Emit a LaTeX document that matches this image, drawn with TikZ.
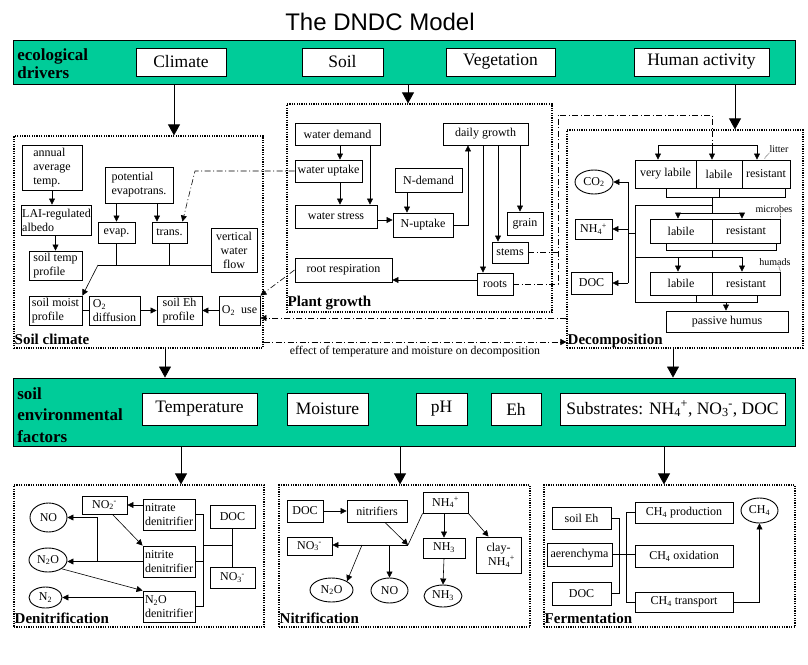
\documentclass[tikz,border=0pt]{standalone}
\usepackage{fontspec}
\setmainfont{Liberation Serif}
\newfontfamily\headfont{Liberation Sans}
\usepackage{tikz}
\usetikzlibrary{shapes.geometric, arrows.meta}
\definecolor{bandgreen}{RGB}{0,204,153}
\newcommand{\ionsub}[2]{\textsubscript{#1}\kern-0.3pt\textsuperscript{#2}}

\begin{document}
\begin{tikzpicture}[x=1pt, y=-1pt, line width=0.6pt,
    box/.style={draw, rectangle, line width=0.9pt, inner sep=1pt, align=center, font=\fontsize{12}{14}\selectfont},
    lbox/.style={box, align=left},
    ellnode/.style={draw, ellipse, line width=0.9pt, inner sep=0pt, font=\fontsize{12}{14}\selectfont},
    drvbox/.style={draw, rectangle, fill=white, line width=0.9pt, inner sep=1pt, font=\fontsize{17.5}{19}\selectfont},
    band/.style={draw, rectangle, fill=bandgreen, line width=0.9pt},
    bandlbl/.style={inner sep=0pt, align=left, font=\bfseries\fontsize{17}{18}\selectfont},
    area/.style={draw, dash pattern=on 1.2pt off 1.2pt, line width=1.2pt},
    arealbl/.style={inner sep=1pt, font=\bfseries\fontsize{15}{16}\selectfont},
    tinylbl/.style={inner sep=0pt, font=\fontsize{10}{11}\selectfont},
    leader/.style={dash pattern=on 0.8pt off 0.8pt, line width=0.5pt},
    arr/.style={-{Triangle[length=6pt,width=6pt]}},
    bigarr/.style={-{Triangle[length=11pt,width=12pt]}, line width=0.7pt},
    ddash/.style={dash pattern=on 6pt off 2.5pt on 1pt off 2.5pt}]
        \useasboundingbox (0,0) rectangle (808,664);

        % Title and ecological drivers
        \node[font=\headfont\fontsize{24}{26}\selectfont] (title) at (380,22) {The DNDC Model};
        \node[band, minimum width=782, minimum height=44] (drivers) at (404,62) {};
        \node[bandlbl, anchor=west] (drvlbl) at (17,64) {ecological\\drivers};
        \node[drvbox, minimum width=90, minimum height=28] (climate) at (181,62) {Climate};
        \node[drvbox, minimum width=81, minimum height=28] (soil) at (342.5,62) {Soil};
        \node[drvbox, minimum width=109, minimum height=28] (veget) at (500.5,62) {Vegetation};
        \node[drvbox, minimum width=135, minimum height=28] (human) at (701.5,62) {Human activity};

        % Process areas
        \node[area, minimum width=249, minimum height=212] (soilclim) at (138.5,242) {};
        \node[area, minimum width=265, minimum height=208] (plantgr) at (419.5,208) {};
        \node[area, minimum width=236, minimum height=218] (decomp) at (685,239) {};
        \node[arealbl, anchor=base west] (soilclimlbl) at ([yshift=4pt]soilclim.south west) {Soil climate};
        \node[arealbl, anchor=base west] (plantgrlbl) at ([yshift=6pt]plantgr.south west) {Plant growth};
        \node[arealbl, anchor=base west] (decomplbl) at ([yshift=4pt]decomp.south west) {Decomposition};

        % Soil climate
        \node[lbox, minimum width=60, minimum height=45] (annual) at (52,167.5) {annual\\average\\temp.};
        \node[lbox, minimum width=69, minimum height=30] (lai) at (56.5,220) {LAI-regulated\\albedo};
        \node[lbox, minimum width=53, minimum height=29] (soiltemp) at (55.5,265.5) {soil temp\\profile};
        \node[lbox, minimum width=68, minimum height=36] (potevap) at (139,185) {potential\\evapotrans.};
        \node[box, minimum width=37, minimum height=21] (evap) at (116.5,232.5) {evap.};
        \node[box, minimum width=35, minimum height=21] (trans) at (169.5,232.5) {trans.};
        \node[box, minimum width=46, minimum height=44] (vwflow) at (234,250) {vertical\\water\\flow};
        \node[lbox, minimum width=53, minimum height=29] (soilmoist) at (55.5,310.5) {soil moist\\profile};
        \node[lbox, minimum width=51, minimum height=29] (o2diff) at (114.5,310.5) {O\textsubscript{2}\\diffusion};
        \node[lbox, minimum width=45, minimum height=29] (soileh) at (179.5,310.5) {soil Eh\\profile};
        \node[box, minimum width=41, minimum height=29] (o2use) at (239.5,310.5) {O\textsubscript{2}\ \ use};
        \coordinate (wjoin) at (98,265);

        \draw[arr] (annual.south) -- (annual.south |- lai.north);
        \draw[arr] (lai.south -| soiltemp.north) -- (soiltemp.north);
        \draw[arr] (potevap.south -| evap.north) -- (evap.north);
        \draw[arr] (potevap.south -| 157,0) -- (trans.north -| 157,0);
        \draw (evap.south) -- (evap.south |- wjoin);
        \draw (trans.south) -- (trans.south |- wjoin);
        \draw (wjoin) -- (wjoin -| vwflow.west);
        \draw[arr] (wjoin) -- (soilmoist.north east);
        \draw (soilmoist.east) -- (o2diff.west);
        \draw[arr] (o2diff.east) -- (soileh.west);
        \draw[arr] (o2use.west) -- (soileh.east);

        % Plant growth
        \node[box, minimum width=85, minimum height=22] (waterdem) at (337.5,134) {water demand};
        \node[box, minimum width=67, minimum height=22] (wateruptake) at (328.5,171) {water uptake};
        \node[box, minimum width=82, minimum height=23] (waterstress) at (336,216.5) {water stress};
        \node[box, minimum width=67, minimum height=24] (ndemand) at (428.5,180) {N-demand};
        \node[box, minimum width=60, minimum height=24] (nuptake) at (423,225) {N-uptake};
        \node[box, minimum width=85, minimum height=22] (dailygr) at (485.5,134) {daily growth};
        \node[box, minimum width=36, minimum height=23] (grain) at (525,223.5) {grain};
        \node[box, minimum width=36, minimum height=21] (stems) at (510,252.5) {stems};
        \node[box, minimum width=36, minimum height=22] (roots) at (495,284) {roots};
        \node[box, minimum width=97, minimum height=24] (rootresp) at (343.5,270) {root respiration};

        \draw[arr] (waterdem.south -| 340,0) -- (wateruptake.north -| 340,0);
        \draw[arr] (waterdem.south -| 370,0) -- (waterstress.north -| 370,0);
        \draw[arr] (wateruptake.south -| 340,0) -- (waterstress.north -| 340,0);
        \draw[arr] (waterstress.east |- 0,220) -- (nuptake.west |- 0,220);
        \draw[arr] (ndemand.south -| 407,0) -- (nuptake.north -| 407,0);
        \draw[arr] (nuptake.east) -| (468,0 |- dailygr.south);
        \draw[arr] (dailygr.south -| 483,0) -- (roots.north -| 483,0);
        \draw[arr] (dailygr.south -| 498,0) -- (stems.north -| 498,0);
        \draw[arr] (dailygr.south -| 520,0) -- (grain.north -| 520,0);
        \draw[arr] (roots.west |- 0,280) -- (rootresp.east |- 0,280);

        % Decomposition
        \node[box, minimum width=61, minimum height=28] (verylabile) at (665.5,174) {very labile};
        \node[box, minimum width=46, minimum height=28] (litlabile) at (719,174) {labile};
        \node[box, minimum width=48, minimum height=28] (litres) at (766,174) {resistant};
        \node[box, minimum width=62, minimum height=24] (mlabile) at (681,231) {labile};
        \node[box, minimum width=68, minimum height=24] (mres) at (746,231) {resistant};
        \node[box, minimum width=62, minimum height=23] (hlabile) at (681,283.5) {labile};
        \node[box, minimum width=68, minimum height=23] (hres) at (746,283.5) {resistant};
        \node[box, minimum width=122, minimum height=21] (passive) at (727,321.5) {passive humus};
        \node[ellnode, minimum width=38, minimum height=24] (co2) at (594,182) {CO\textsubscript{2}};
        \node[box, minimum width=37, minimum height=20] (nh4d) at (593.5,229) {NH\ionsub{4}{+}};
        \node[box, minimum width=41, minimum height=22] (docd) at (591.5,283) {DOC};
        \node[tinylbl] (litterlbl) at (779,149) {litter};
        \node[tinylbl] (microblbl) at (774,209) {microbes};
        \node[tinylbl] (humadlbl) at (775,262) {humads};
        \coordinate (litbr) at (712,145);

        \draw (658,145) -- (757,145);
        \foreach \x in {658,712,757}
            \draw[arr] (\x,145) -- (\x,0 |- verylabile.north);
        \draw (666,0 |- verylabile.south) -- (666,197) -- (785,197) -- (785,0 |- litres.south);
        \draw (719,0 |- litlabile.south) -- (719,197);
        \draw (712,197) -- (712,213);
        \draw (678,213) -- (742,213);
        \foreach \x in {678,742}
            \draw[arr] (\x,213) -- (\x,0 |- mlabile.north);
        \draw (666,0 |- mlabile.south) -- (666,250) -- (776,250) -- (776,0 |- mres.south);
        \draw (712,250) -- (712,257);
        \draw (635,205) -- (712,205);
        \draw (635,205) -- (635,302) -- (757,302) -- (757,0 |- hres.south);
        \draw (696,0 |- hlabile.south) -- (696,302);
        \draw (635,257) -- (742,257);
        \foreach \x in {678,742}
            \draw[arr] (\x,257) -- (\x,0 |- hlabile.north);
        \draw[arr] (726,302) -- (726,0 |- passive.north);
        \draw (635,233) -- (628,233);
        \draw (628,0 |- co2.east) -- (628,0 |- docd.east);
        \draw[arr] (628,0 |- co2.east) -- (co2.east);
        \draw[arr] (628,0 |- nh4d.east) -- (nh4d.east);
        \draw[arr] (628,0 |- docd.east) -- (docd.east);
        \draw[leader] (litterlbl.south west) -- ++(-5,6);
        \draw[leader] ([xshift=-12pt]microblbl.south east) -- (mres.north east);
        \draw[leader] ([xshift=-12pt]humadlbl.south east) -- (hres.north east);

        % Links between areas
        \draw[ddash, arr] (wateruptake.west) -- (195,0 |- wateruptake.west) -- ([xshift=-5pt]trans.north east);
        \draw[ddash, arr] (rootresp.west) -- (o2use.north east);
        \draw[ddash, arr] (decomp.west |- 0,318) -- (o2use.east |- 0,318);
        \draw[ddash] (stems.east) -- (558,0 |- stems.east);
        \draw[ddash] (roots.east) -| (558,115) -| (litbr);
        \draw[ddash, arr] (soilclim.east |- 0,342) -- (decomp.west |- 0,342)
            node[midway, below=1pt, font=\fontsize{11.8}{13}\selectfont] (effectlbl) {effect of temperature and moisture on decomposition};

        % Soil environmental factors
        \node[band, minimum width=782, minimum height=68] (envfac) at (404,412) {};
        \node[bandlbl, font=\bfseries\fontsize{17}{21.5}\selectfont, anchor=west] (envlbl) at (17,415) {soil\\environmental\\factors};
        \node[drvbox, minimum width=115, minimum height=32] (temp) at (199.5,409) {Temperature};
        \node[drvbox, minimum width=81, minimum height=32] (moist) at (327.5,409) {Moisture};
        \node[drvbox, minimum width=51, minimum height=32] (ph) at (441.5,409) {pH};
        \node[drvbox, minimum width=50, minimum height=32] (eh) at (516,409) {Eh};
        \node[drvbox, minimum width=225, minimum height=32] (substr) at (672.5,409) {Substrates: NH\ionsub{4}{+},\ NO\ionsub{3}{-}, DOC};

        \draw[bigarr] (drivers.south -| 174,0) -- (soilclim.north -| 174,0);
        \draw[bigarr] (drivers.south -| 408,0) -- (plantgr.north -| 408,0);
        \draw[bigarr] (drivers.south -| 735,0) -- (decomp.north -| 735,0);
        \draw[bigarr] (soilclim.south -| 165,0) -- (envfac.north -| 165,0);
        \draw[bigarr] (decomp.south -| 673,0) -- (envfac.north -| 673,0);

        % Lower areas
        \node[area, minimum width=250, minimum height=142] (denit) at (139,556) {};
        \node[area, minimum width=251, minimum height=142] (nitrif) at (404.5,556) {};
        \node[area, minimum width=251, minimum height=142] (ferment) at (669.5,556) {};
        \node[arealbl, anchor=base west] (denitlbl) at ([yshift=4pt]denit.south west) {Denitrification};
        \node[arealbl, anchor=base west] (nitriflbl) at ([yshift=4pt]nitrif.south west) {Nitrification};
        \node[arealbl, anchor=base west] (fermentlbl) at ([yshift=4pt]ferment.south west) {Fermentation};
        \draw[bigarr] (envfac.south -| 181,0) -- (denit.north -| 181,0);
        \draw[bigarr] (envfac.south -| 400,0) -- (nitrif.north -| 400,0);
        \draw[bigarr] (envfac.south -| 664,0) -- (ferment.north -| 664,0);

        % Denitrification
        \node[ellnode, minimum width=37, minimum height=29] (noell) at (48.5,517.5) {NO};
        \node[ellnode, minimum width=38, minimum height=24] (n2oell) at (48,560) {N\textsubscript{2}O};
        \node[ellnode, minimum width=33, minimum height=21] (n2ell) at (45.5,597.5) {N\textsubscript{2}};
        \node[box, minimum width=45, minimum height=18] (no2box) at (104.5,505) {NO\ionsub{2}{-}};
        \node[lbox, minimum width=52, minimum height=31] (nitratedn) at (169,514.5) {nitrate\\denitrifier};
        \node[lbox, minimum width=52, minimum height=31] (nitritedn) at (169,561.5) {nitrite\\denitrifier};
        \node[lbox, minimum width=52, minimum height=31] (n2odn) at (169,606.5) {N\textsubscript{2}O\\denitrifier};
        \node[box, minimum width=45, minimum height=23] (docdn) at (232.5,516.5) {DOC};
        \node[box, minimum width=45, minimum height=21] (no3dn) at (232.5,577.5) {NO\ionsub{3}{-}};

        \draw[arr] (nitratedn.west |- no2box.east) -- (no2box.east);
        \draw[arr] ([xshift=8pt]no2box.south) -- (nitritedn.north west);
        \draw[arr] (nitritedn.west) -- (nitritedn.west -| n2oell.east);
        \draw[arr] (97,0 |- nitritedn.west) |- (noell.east);
        \draw[arr] (n2oell.south east) -- (n2odn.north west);
        \draw[arr] (n2odn.west |- n2ell.east) -- (n2ell.east);
        \draw (nitratedn.east) -- ++(8,0) |- (n2odn.east);
        \draw (nitritedn.east) -- ++(8,0);
        \draw (docdn.south) -- (no3dn.north);
        \draw (203,545) -- (docdn.south |- 0,545);

        % Nitrification
        \node[box, minimum width=36, minimum height=22] (docn) at (305,511) {DOC};
        \node[box, minimum width=60, minimum height=22] (nitrifiers) at (377,511) {nitrifiers};
        \node[box, minimum width=45, minimum height=21] (nh4n) at (445.5,502.5) {NH\ionsub{4}{+}};
        \node[box, minimum width=45, minimum height=18] (no3n) at (309.5,546) {NO\ionsub{3}{-}};
        \node[box, minimum width=42, minimum height=20] (nh3box) at (444,548) {NH\textsubscript{3}};
        \node[box, minimum width=45, minimum height=36] (claynh4) at (498.5,555) {clay-\\\ \ NH\ionsub{4}{+}};
        \node[ellnode, minimum width=43, minimum height=24] (n2on) at (331.5,590) {N\textsubscript{2}O};
        \node[ellnode, minimum width=37, minimum height=25] (non) at (389.5,590.5) {NO};
        \node[ellnode, minimum width=38, minimum height=22] (nh3ell) at (443,596) {NH\textsubscript{3}};
        \coordinate (nitjoin) at (408,545);
        \coordinate (n2osplit) at (362,545);

        \draw[arr] (docn.east) -- (nitrifiers.west);
        \draw[arr] ([xshift=8pt]nitrifiers.south) -- (nitjoin);
        \draw (nh4n.south west) -- (nitjoin);
        \draw[arr] (nitjoin) -- (nitjoin -| no3n.east);
        \draw[arr] (n2osplit) -- (n2on.north east);
        \draw[arr] (nitjoin -| non.north) -- (non.north);
        \draw[arr] (nh4n.south -| nh3box.north) -- (nh3box.north);
        \draw[arr] (nh4n.south east) -- ([xshift=-10pt]claynh4.north);
        \draw[arr] (nh3box.south) -- (nh3ell.north);

        % Fermentation
        \node[box, minimum width=59, minimum height=22] (soilehf) at (581.5,518) {soil Eh};
        \node[box, minimum width=65, minimum height=23] (aeren) at (579.5,554.5) {aerenchyma};
        \node[box, minimum width=59, minimum height=23] (docf) at (581.5,593.5) {DOC};
        \node[box, minimum width=98, minimum height=21] (ch4prod) at (684,512.5) {CH\textsubscript{4} production};
        \node[box, minimum width=98, minimum height=22] (ch4ox) at (684,556) {CH\textsubscript{4} oxidation};
        \node[box, minimum width=98, minimum height=20] (ch4trans) at (684,602) {CH\textsubscript{4} transport};
        \node[ellnode, minimum width=37, minimum height=25] (ch4ell) at (759.5,510.5) {CH\textsubscript{4}};

        \draw (soilehf.east) -- ++(8,0) |- (docf.east);
        \draw (ch4prod.west) -- ++(-8,0) |- (ch4trans.west);
        \draw (aeren.east) -- (aeren.east -| ch4ox.west);
        \draw[arr] (ch4trans.east) -| (ch4ell.south);
\end{tikzpicture}
\end{document}
